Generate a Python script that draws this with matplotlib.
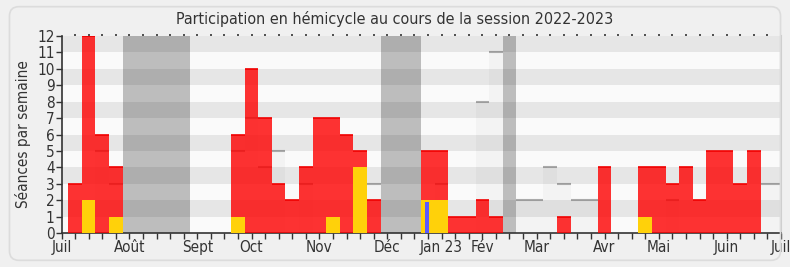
import matplotlib
matplotlib.use("Agg")
import matplotlib.pyplot as plt
from matplotlib.patches import FancyBboxPatch
import numpy as np

plt.rcParams["font.family"] = ["DejaVu Sans"]
plt.rcParams["font.stretch"] = "condensed"

# Weeks of the session (week 0 = end of June 2022)
weeks = np.arange(0, 54)

# Séances présent (red), per week
presence = [0, 3, 12, 6, 4, 0, 0, 0, 0, 0,
            0, 0, 0, 6, 10, 7, 3, 2, 4, 7,
            7, 6, 5, 2, 0, 0, 0, 5, 5, 1,
            1, 2, 1, 0, 0, 0, 0, 1, 0, 0,
            4, 0, 0, 4, 4, 3, 4, 2, 5, 5,
            3, 5, 0, 0]

# Interventions (yellow)
interv_weeks = [2, 4, 13, 20, 22, 27, 28, 43]
interv_values = [2, 1, 1, 1, 4, 2, 2, 1]

# Questions (blue)
quest_weeks = [27]
quest_values = [1.9]

# Médiane des députés (grey step)
median = [0, 0, 0, 5, 3, 0, 0, 0, 0, 0,
          0, 0, 0, 5, 7, 4, 5, 0, 3, 0,
          0, 0, 0, 3, 0, 0, 0, 0, 3, 0,
          0, 8, 11, 0, 2, 2, 4, 3, 2, 2,
          0, 0, 0, 0, 0, 2, 0, 0, 0, 0,
          0, 0, 3, 3]

# Vacances parlementaires
vacations = [(5, 9), (24, 26), (33, 33)]

month_pos = [0, 5, 10, 14, 19, 24, 28, 31, 35, 40, 44, 49, 53]
month_labels = ["Juil", "Août", "Sept", "Oct", "Nov", "Déc", "Jan 23",
                "Fév", "Mar", "Avr", "Mai", "Juin", "Juil"]

fig = plt.figure(figsize=(7.9, 2.67), dpi=100, facecolor="#f0f0f0")
ax = fig.add_axes([61.5 / 790, 1 - 233 / 267, 719.5 / 790, 197 / 267])
ax.set_facecolor("#fafafa")

# frame around the figure
fig.patches.append(FancyBboxPatch((0.012, 0.025), 0.976, 0.95,
                                  boxstyle="round,pad=0,rounding_size=0.012",
                                  mutation_aspect=2.9,
                                  transform=fig.transFigure, facecolor="none",
                                  edgecolor="#dcdcdc", lw=1.2))

# vacations
for a, b in vacations:
    ax.axvspan(a - 0.5, b + 0.5, color="#bdbdbd", zorder=1, lw=0)

# median area + step line
for w, m in zip(weeks, median):
    if m > 0:
        ax.bar(w, m, width=1, color="#eeeeee", alpha=0.5, zorder=1.2, lw=0)
        ax.hlines(m, w - 0.5, w + 0.5, color="#aaaaaa", lw=1.5, zorder=1.3)

# horizontal stripes
for k in range(1, 12, 2):
    ax.axhspan(k, k + 1, color="black", alpha=0.08, lw=0, zorder=2)

# presence bars
ax.bar(weeks, presence, width=1, color="#ff0000", alpha=0.8, lw=0, zorder=3)
for w, p in zip(weeks, presence):
    if p > 0:
        ax.hlines(p, w - 0.5, w + 0.5, color="#f00000", lw=1.2, zorder=3.5)

ax.bar(interv_weeks, interv_values, width=1, color="#ffd10a", lw=0, zorder=4)
ax.bar([w - 0.1 for w in quest_weeks], quest_values, width=0.27,
       color="#5b5bff", lw=0, zorder=5)

ax.set_xlim(0, 53)
ax.set_ylim(0, 12)
ax.set_yticks(range(0, 13))
ax.set_xticks(weeks, minor=True)
ax.set_xticks(month_pos)
ax.set_xticklabels(month_labels)
ax.tick_params(axis="x", which="both", length=4, width=1, color="#333333",
               labelsize=11, labelcolor="#333333", pad=1)
ax.tick_params(axis="y", length=4, width=1, color="#333333",
               labelsize=11, labelcolor="#333333", pad=1)

top = ax.secondary_xaxis("top")
top.set_xticks(weeks[1:-1])
top.set_xticklabels([])
top.tick_params(length=1.2, width=1.2, color="#333333", direction="out")
top.spines["top"].set_visible(False)

for s in ["left", "bottom"]:
    ax.spines[s].set_color("#333333")
    ax.spines[s].set_linewidth(1.2)
ax.spines["top"].set_visible(False)
ax.spines["right"].set_color("#c8c8c8")
ax.spines["right"].set_linewidth(1.5)

ax.set_ylabel("Séances par semaine", fontsize=11, color="#333333", labelpad=4)
fig.text(0.5, 0.93, "Participation en hémicycle au cours de la session 2022-2023",
         ha="center", va="center", fontsize=11.5, color="#333333")

fig.savefig("out.png", dpi=100, facecolor=fig.get_facecolor())
